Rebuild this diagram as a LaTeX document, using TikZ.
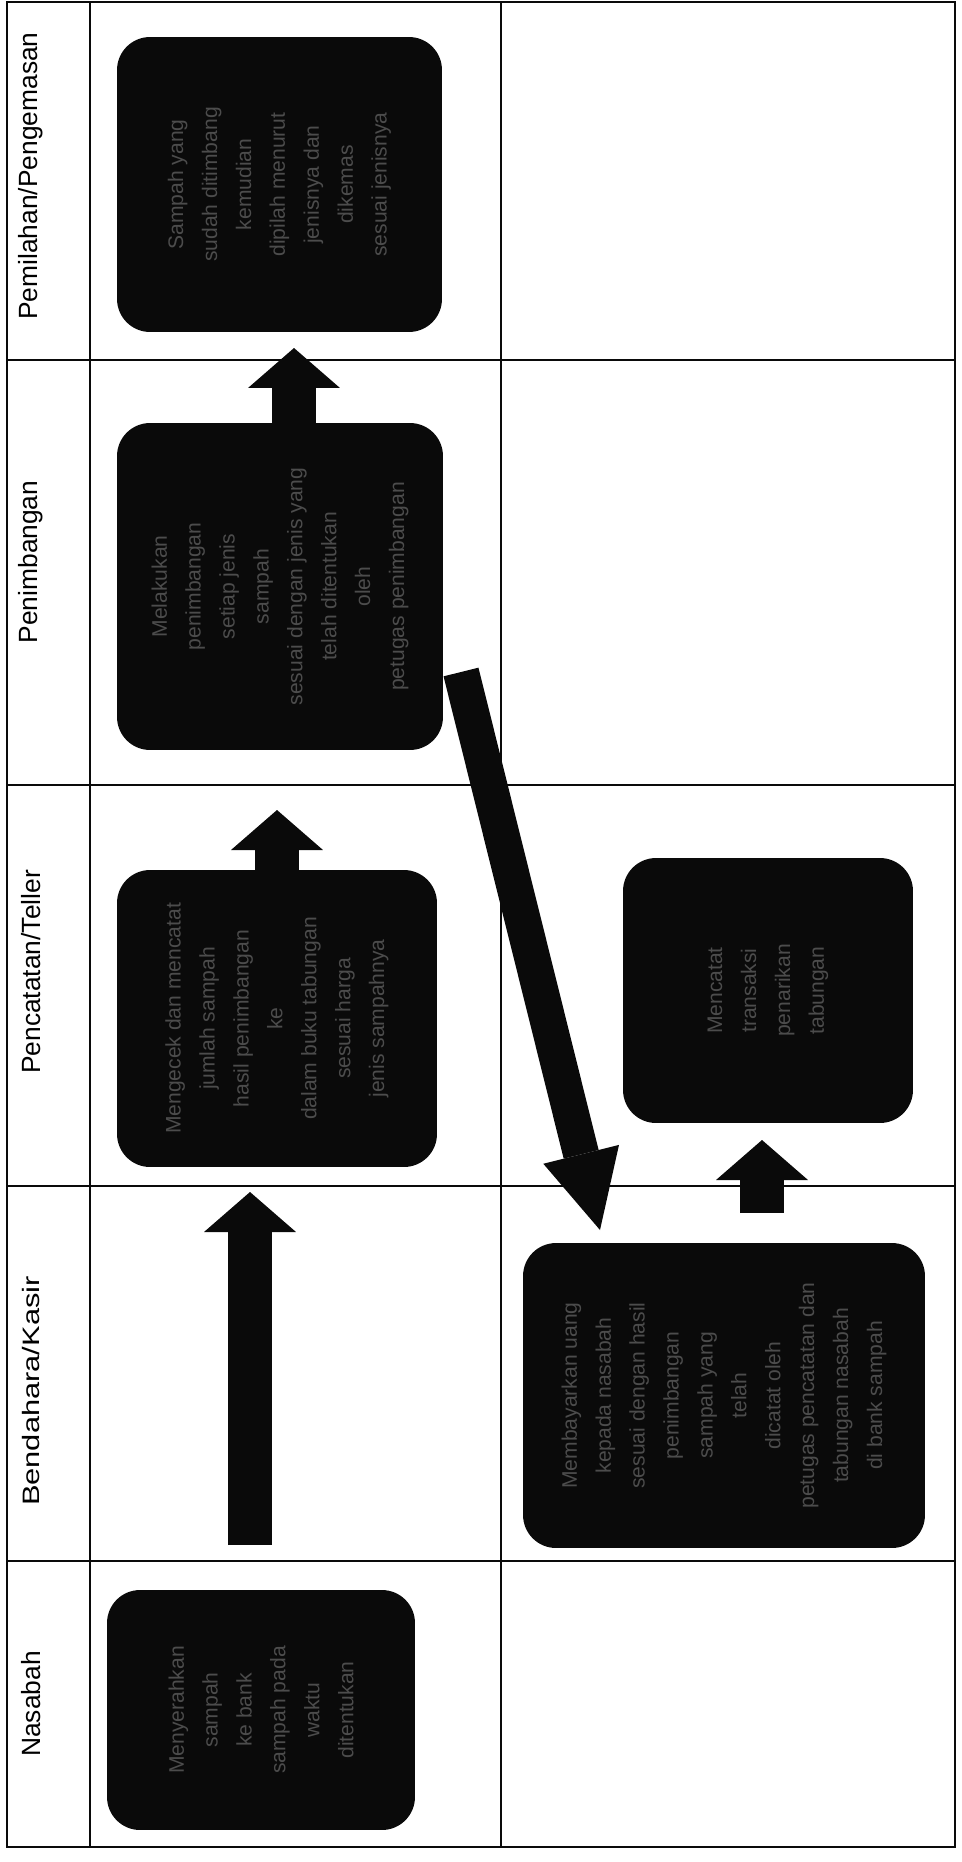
\documentclass[tikz,border=0pt]{standalone}
\usepackage{fontspec}
\setmainfont{Liberation Sans}
\usepackage{xcolor}
\definecolor{ink}{HTML}{0A0A0A}
\definecolor{faint}{HTML}{4C4C4C}
\usetikzlibrary{arrows.meta, positioning, calc}

\begin{document}
\begin{tikzpicture}[x=0.02cm, y=-0.02cm,
  grid/.style={line width=0.8pt, ink},
  lane/.style={font=\fontsize{15}{18}\selectfont, rotate=90, inner sep=0pt},
  box/.style={fill=ink, rounded corners=0.66cm},
  boxtext/.style={font=\fontsize{12}{19.3}\selectfont, text=faint, rotate=90, align=center},
  blockarrow/.style={ink, line width=0.88cm, -{Triangle[width=1.84cm, length=0.8cm, line width=0pt]}},
  slantarrow/.style={ink, line width=0.72cm, -{Triangle[width=1.56cm, length=1.56cm, line width=0pt]}}]

  \useasboundingbox (0,0) rectangle (961,1862);

  % Tabel
  \draw[grid] (7,2) rectangle (955,1847);
  \draw[grid] (90,2) -- (90,1847);
  \draw[grid] (501,2) -- (501,1847);
  \foreach \y in {360,785,1186,1561}
    \draw[grid] (7,\y) -- (955,\y);

  % Lajur
  \node[lane] (h-pm) at (31,176)  {Pemilahan/Pengemasan};
  \node[lane] (h-pb) at (31,562)  {Penimbangan};
  \node[lane] (h-pc) at (31,972)  {Pencatatan/Teller};
  \node[lane, font=\fontsize{13.5}{16}\selectfont, xscale=1.3] (h-bk) at (31,1391) {Bendahara/Kasir};
  \node[lane] (h-ns) at (31,1704) {Nasabah};

  % Kotak kiri
  \node[box, minimum width=6.5cm, minimum height=5.9cm] (pm) at (279.5,184.5) {};
  \node[box, minimum width=6.52cm, minimum height=6.54cm] (pb) at (280,586.5) {};
  \node[box, minimum width=6.4cm, minimum height=5.94cm] (pc) at (277,1018.5) {};
  \node[box, minimum width=6.16cm, minimum height=4.8cm] (ns) at (261,1710) {};

  % Kotak kanan
  \node[box, minimum width=5.8cm, minimum height=5.3cm] (pr) at (768,990.5) {};
  \node[box, minimum width=8.04cm, minimum height=6.1cm] (bk) at (724,1395.5) {};

  % Teks kotak
  \node[boxtext] (pm-t) at (pm) {Sampah yang\\ sudah ditimbang\\ kemudian\\ dipilah menurut\\ jenisnya dan\\ dikemas\\ sesuai jenisnya};
  \node[boxtext] (pb-t) at (pb) {Melakukan\\ penimbangan\\ setiap jenis\\ sampah\\ sesuai dengan jenis yang\\ telah ditentukan\\ oleh\\ petugas penimbangan};
  \node[boxtext] (pc-t) at (pc) {Mengecek dan mencatat\\ jumlah sampah\\ hasil penimbangan\\ ke\\ dalam buku tabungan\\ sesuai harga\\ jenis sampahnya};
  \node[boxtext] (ns-t) at (ns) {Menyerahkan\\ sampah\\ ke bank\\ sampah pada\\ waktu\\ ditentukan};
  \node[boxtext] (pr-t) at (pr) {Mencatat\\ transaksi\\ penarikan\\ tabungan};
  \node[boxtext] (bk-t) at (bk) {Membayarkan uang\\ kepada nasabah\\ sesuai dengan hasil\\ penimbangan\\ sampah yang\\ telah\\ dicatat oleh\\ petugas pencatatan dan\\ tabungan nasabah\\ di bank sampah};

  % Panah
  \coordinate (a1s) at (250,1545);
  \coordinate (a1e) at (250,1192);
  \coordinate (a2e) at (277,810);
  \coordinate (a3e) at (294,348);
  \coordinate (a4s) at (461,672);
  \coordinate (a4e) at (600,1230);
  \coordinate (a5s) at (762,1213);
  \coordinate (a5e) at (762,1140);

  \draw[blockarrow] (a1s) -- (a1e);
  \draw[blockarrow] (pc.north) -- (a2e);
  \draw[blockarrow] (pb.north -| a3e) -- (a3e);
  \draw[slantarrow] (a4s) -- (a4e);
  \draw[blockarrow] (a5s) -- (a5e);

\end{tikzpicture}
\end{document}
